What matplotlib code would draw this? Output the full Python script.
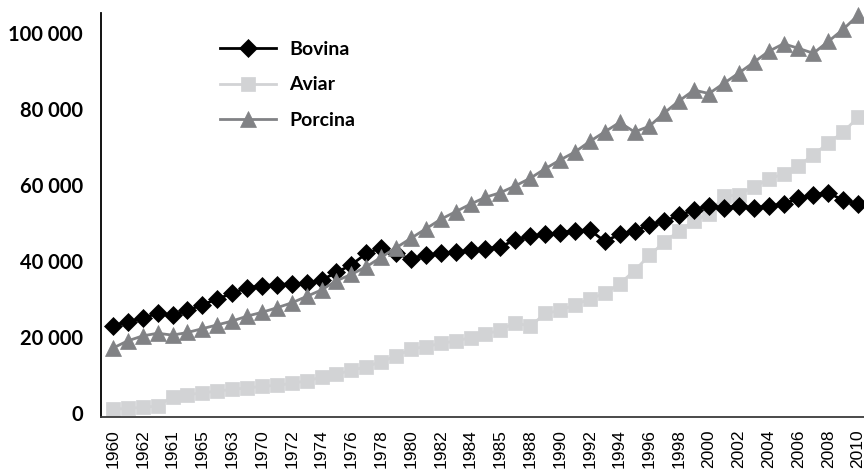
import matplotlib
matplotlib.use("Agg")
import matplotlib.pyplot as plt

years = list(range(1960, 2011))

bovina = [23.0, 24.0, 25.0, 26.2, 25.8, 27.0, 28.5, 30.0, 31.5, 33.0,
          33.5, 33.8, 34.0, 34.2, 35.0, 37.0, 39.0, 42.0, 43.5, 42.0,
          40.5, 41.5, 42.0, 42.3, 42.8, 43.2, 43.8, 45.5, 46.5, 47.0,
          47.5, 48.0, 48.2, 45.2, 47.0, 48.0, 49.5, 50.5, 52.0, 53.5,
          54.5, 54.0, 54.5, 54.0, 54.5, 55.0, 56.5, 57.5, 58.0, 56.0, 55.0]

aviar = [1.0, 1.2, 1.5, 1.8, 4.3, 4.8, 5.3, 5.8, 6.2, 6.6,
         7.0, 7.3, 7.8, 8.5, 9.4, 10.3, 11.2, 12.2, 13.5, 15.0,
         16.8, 17.5, 18.3, 19.0, 19.8, 20.8, 21.8, 23.8, 22.8, 26.2,
         27.0, 28.5, 30.0, 31.5, 34.0, 37.5, 41.5, 45.0, 48.0, 50.5,
         52.5, 57.0, 57.5, 59.5, 61.5, 63.0, 65.0, 68.0, 71.0, 74.0, 77.8]

porcina = [17.1, 19.0, 20.3, 21.0, 20.5, 21.2, 22.2, 23.2, 24.2, 25.5,
           26.5, 27.7, 29.0, 30.7, 32.4, 34.8, 36.5, 38.5, 41.0, 43.5,
           46.0, 48.5, 51.0, 53.0, 55.0, 56.8, 58.0, 59.8, 61.8, 64.3,
           66.6, 68.7, 71.5, 74.0, 76.5, 74.0, 75.5, 79.0, 82.2, 85.0,
           84.1, 86.8, 89.5, 92.3, 95.2, 97.2, 96.0, 94.7, 97.8, 101.0, 104.7]

xtick_labels = ["1960", "1962", "1961", "1965", "1963", "1970", "1972", "1974",
                "1976", "1978", "1980", "1982", "1984", "1985", "1988", "1990",
                "1992", "1994", "1996", "1998", "2000", "2002", "2004", "2006",
                "2008", "2010"]

ytick_values = [0, 20000, 40000, 60000, 80000, 100000]
ytick_labels = ["0", "20 000", "40 000", "60 000", "80 000", "100 000"]

series_names = ["Bovina", "Aviar", "Porcina"]

fig = plt.figure(figsize=(8.64, 4.75), dpi=100)
ax = fig.add_axes([101/864, 58/475, 763/864, 404/475])

idx = list(range(len(years)))
to_units = lambda s: [v * 1000 for v in s]

l_bov, = ax.plot(idx, to_units(bovina), color="black", lw=2, marker="D", ms=9.3,
                 mec="black", mew=0.5, zorder=3, clip_on=False, label=series_names[0])
l_avi, = ax.plot(idx, to_units(aviar), color="#d2d3d5", lw=2, marker="s", ms=10.5,
                 mec="#d2d3d5", mew=0.5, zorder=2, clip_on=False, label=series_names[1])
l_por, = ax.plot(idx, to_units(porcina), color="#818285", lw=2, marker="^", ms=11.5,
                 mec="#818285", mew=0.5, zorder=4, clip_on=False, label=series_names[2])

ax.set_xlim(-0.8, 50.4)
ax.set_ylim(-1050, 105300)

ax.set_xticks(list(range(0, len(years), 2)))
ax.set_xticklabels(xtick_labels, rotation=90, fontsize=12.5,
                   fontfamily="Liberation Sans", ha="center", va="top")
ax.set_yticks(ytick_values)
ax.set_yticklabels(ytick_labels, fontsize=14.5, fontweight="bold", fontfamily="Lato")
ax.tick_params(axis="both", length=0)
ax.tick_params(axis="y", pad=13)
ax.tick_params(axis="x", pad=9)

for s in ["top", "right"]:
    ax.spines[s].set_visible(False)
ax.spines["left"].set_color("black")
ax.spines["left"].set_linewidth(1.3)
ax.spines["bottom"].set_color("#3a3a3a")
ax.spines["bottom"].set_linewidth(1.3)

leg = fig.legend(handles=[l_bov, l_avi, l_por], loc="upper left",
                 bbox_to_anchor=(220/864, (475-41)/475), frameon=False,
                 prop={"family": "Lato", "weight": "bold", "size": 14},
                 handlelength=2.9, handletextpad=0.65, labelspacing=0.95,
                 borderpad=0, borderaxespad=0)

fig.savefig("out.png", dpi=100)
